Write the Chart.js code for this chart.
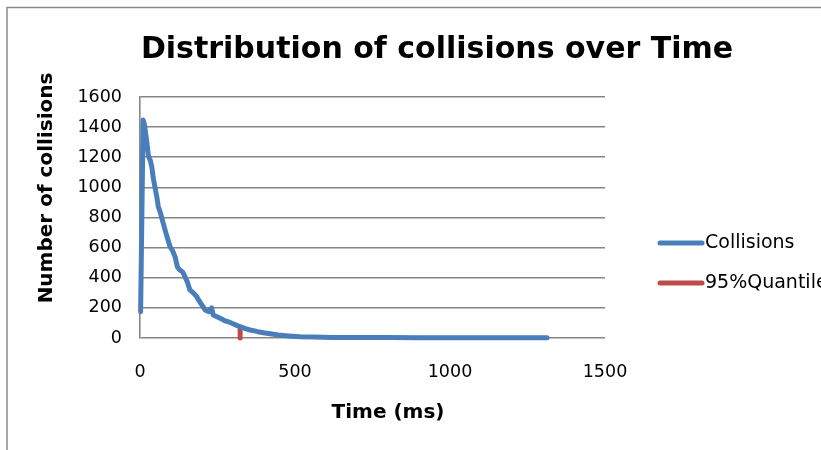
<!DOCTYPE html>
<html>
<head>
<meta charset="utf-8">
<script src="https://cdn.jsdelivr.net/npm/chart.js@4.4.1/dist/chart.umd.min.js"></script>
<style>
  html, body { margin: 0; padding: 0; background: #fff; overflow: hidden; }
</style>
</head>
<body>
<canvas id="myChart" width="821" height="450"></canvas>
<script>
var time = [2, 10, 14, 18, 22, 27, 33, 38, 43, 48, 54, 59, 66, 75, 86, 97, 105, 113, 121, 129, 137, 145, 153, 161, 172, 183, 196, 210, 222, 231, 236, 250, 262, 269, 277, 285, 300, 312, 323, 340, 355, 366, 380, 398, 420, 446, 480, 516, 560, 623, 700, 800, 900, 1000, 1100, 1200, 1313];
var collisions = [175, 1447, 1420, 1360, 1300, 1210, 1180, 1137, 1060, 1004, 940, 872, 830, 761, 680, 606, 580, 540, 470, 451, 440, 407, 370, 319, 300, 274, 230, 186, 175, 200, 153, 140, 128, 120, 112, 108, 95, 84, 75, 62, 53, 49, 42, 35, 28, 20, 14, 9, 6, 4, 3, 3, 2, 2, 1, 1, 1];

var quantileTime = [323, 323];
var quantileValue = [0, 72];

var chartTitle = "Distribution of collisions over Time";
var xTitle = "Time (ms)";
var yTitle = "Number of collisions";

var blue = "#4A7EBB";
var red = "#BE4B48";

function toPoints(xs, ys) {
    var pts = [];
    for (var i in xs) {
        pts.push({x: xs[i], y: ys[i]});
    }
    return pts;
}

// title, axis titles, legend and outer frame
var decor = {
    id: "decor",
    beforeDraw: function(chart) {
        var ctx = chart.ctx;
        ctx.save();
        ctx.strokeStyle = "#8a8a8a";
        ctx.lineWidth = 1.5;
        ctx.beginPath();
        ctx.moveTo(7, 450);
        ctx.lineTo(7, 7.5);
        ctx.lineTo(821, 7.5);
        ctx.stroke();
        ctx.restore();
    },
    afterDraw: function(chart) {
        var ctx = chart.ctx;
        ctx.save();
        ctx.fillStyle = "#000";
        ctx.textAlign = "center";
        ctx.textBaseline = "middle";
        ctx.font = "bold 30px 'DejaVu Sans'";
        ctx.fillText(chartTitle, 437, 50);
        ctx.font = "bold 20px 'DejaVu Sans'";
        ctx.fillText(xTitle, 388, 413);
        ctx.translate(47, 188);
        ctx.rotate(-Math.PI / 2);
        ctx.fillText(yTitle, 0, 0);
        ctx.restore();

        ctx.save();
        ctx.font = "19px 'DejaVu Sans'";
        ctx.textAlign = "left";
        ctx.textBaseline = "middle";
        ctx.lineCap = "round";
        ctx.lineWidth = 5;
        var rows = [243, 283];
        chart.data.datasets.forEach(function(ds, i) {
            ctx.strokeStyle = ds.borderColor;
            ctx.beginPath();
            ctx.moveTo(660, rows[i]);
            ctx.lineTo(702, rows[i]);
            ctx.stroke();
            ctx.fillStyle = "#000";
            ctx.fillText(ds.label, 705, rows[i]);
        });
        ctx.restore();
    }
};

function plain(v) {
    return String(v);
}

var ctx = document.getElementById("myChart");

var chart = new Chart(ctx, {
    type: "line",
    data: {
        datasets: [{
            label: "Collisions",
            data: toPoints(time, collisions),
            borderColor: blue,
            backgroundColor: blue,
            borderWidth: 5,
            pointRadius: 0,
            tension: 0,
            borderJoinStyle: "round",
            borderCapStyle: "round",
            clip: 6
        }, {
            label: "95%Quantile",
            data: toPoints(quantileTime, quantileValue),
            borderColor: red,
            backgroundColor: red,
            borderWidth: 5,
            pointRadius: 0,
            borderCapStyle: "round",
            clip: 6
        }]
    },
    options: {
        responsive: false,
        animation: false,
        layout: {
            padding: {left: 0, right: 216, top: 97, bottom: 0}
        },
        plugins: {
            legend: {display: false},
            title: {display: false},
            tooltip: {enabled: false}
        },
        scales: {
            x: {
                type: "linear",
                min: 0,
                max: 1500,
                ticks: {
                    stepSize: 500,
                    padding: 24,
                    color: "#000",
                    callback: plain,
                    font: {family: "'DejaVu Sans'", size: 17.5}
                },
                grid: {display: false, drawTicks: false},
                border: {display: false},
                afterFit: function(scale) { scale.height = 112; }
            },
            y: {
                min: 0,
                max: 1600,
                ticks: {
                    stepSize: 200,
                    padding: 18,
                    color: "#000",
                    callback: plain,
                    font: {family: "'DejaVu Sans'", size: 17.5}
                },
                grid: {color: "#868686", lineWidth: 1.6, drawTicks: false},
                border: {display: true, color: "#868686", width: 1.6},
                afterFit: function(scale) { scale.width = 140; }
            }
        }
    },
    plugins: [decor]
});
</script>
</body>
</html>
